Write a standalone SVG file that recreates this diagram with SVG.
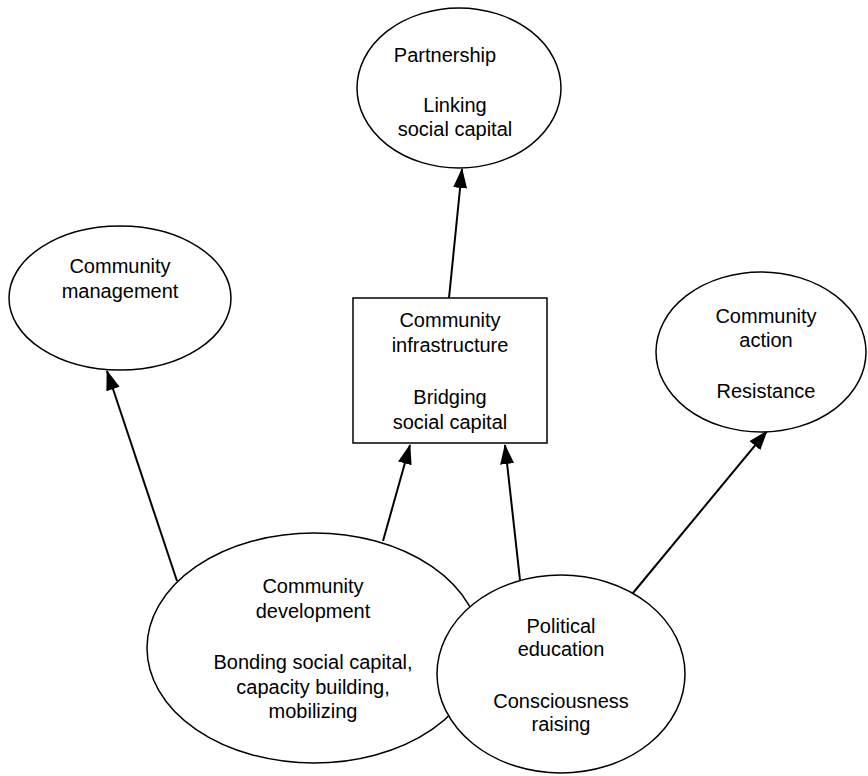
<svg xmlns="http://www.w3.org/2000/svg" width="868" height="776" viewBox="0 0 868 776">
<style>
.n{fill:#fff;stroke:#000;stroke-width:1.5}
.t{font-family:"Liberation Sans",Arial,sans-serif;font-size:20px;fill:#000;text-anchor:middle}
.c{stroke:#000;stroke-width:2;fill:none;marker-end:url(#ah)}
</style>
<defs>
<marker id="ah" markerUnits="userSpaceOnUse" markerWidth="20" markerHeight="14" refX="19" refY="7" orient="auto" viewBox="0 0 20 14">
<path d="M0,0 L20,7 L0,14 z" fill="#000"/>
</marker>
</defs>
<g id="connectors">
<line class="c" x1="449" y1="298" x2="462" y2="169"/>
<line class="c" x1="177" y1="581" x2="107" y2="371"/>
<line class="c" x1="383" y1="541" x2="410" y2="445"/>
<line class="c" x1="520" y1="580" x2="505" y2="445"/>
<line class="c" x1="633" y1="593" x2="767" y2="431"/>
</g>
<g id="partnership">
<ellipse class="n" cx="459" cy="88" rx="102" ry="80"/>
<text class="t" x="445" y="62">Partnership</text>
<text class="t" x="455" y="112">Linking</text>
<text class="t" x="455" y="136">social capital</text>
</g>
<g id="community-management">
<ellipse class="n" cx="120" cy="298" rx="111" ry="72"/>
<text class="t" x="120" y="273">Community</text>
<text class="t" x="120" y="298">management</text>
</g>
<g id="community-infrastructure">
<rect class="n" x="353" y="298" width="194" height="145"/>
<text class="t" x="450" y="327">Community</text>
<text class="t" x="450" y="352">infrastructure</text>
<text class="t" x="450" y="404">Bridging</text>
<text class="t" x="450" y="429">social capital</text>
</g>
<g id="community-action">
<ellipse class="n" cx="761" cy="352" rx="105" ry="80"/>
<text class="t" x="766" y="323">Community</text>
<text class="t" x="766" y="347">action</text>
<text class="t" x="766" y="398">Resistance</text>
</g>
<g id="community-development">
<ellipse class="n" cx="314" cy="648" rx="167" ry="115"/>
<text class="t" x="313" y="593">Community</text>
<text class="t" x="313" y="618">development</text>
<text class="t" x="313" y="669">Bonding social capital,</text>
<text class="t" x="313" y="694">capacity building,</text>
<text class="t" x="313" y="718">mobilizing</text>
</g>
<g id="political-education">
<ellipse class="n" cx="561" cy="674" rx="124" ry="99"/>
<text class="t" x="561" y="633">Political</text>
<text class="t" x="561" y="656">education</text>
<text class="t" x="561" y="708">Consciousness</text>
<text class="t" x="561" y="731">raising</text>
</g>
</svg>
